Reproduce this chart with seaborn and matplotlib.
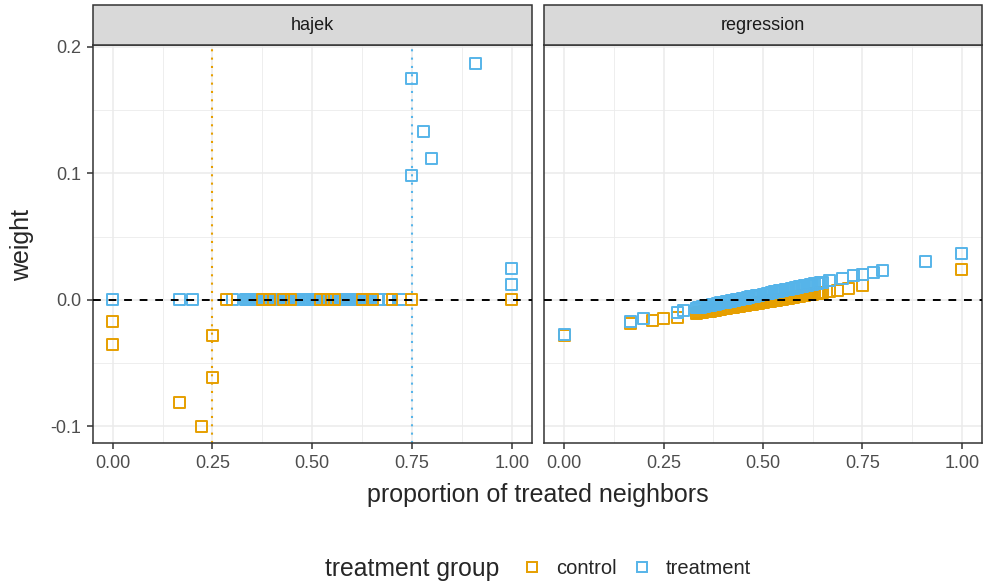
import pandas as pd
import matplotlib
matplotlib.use('Agg')
import matplotlib.pyplot as plt
import seaborn as sns
from matplotlib.patches import Rectangle
from matplotlib.lines import Line2D

sns.set_theme(style="white")
plt.rcParams['font.family'] = ['Liberation Sans', 'DejaVu Sans']

# colours for the two groups
ctrl_col = "#E69F00"
trt_col = "#56B4E9"

# proportion values of the dense middle band
band_x = [0.333, 0.338, 0.343, 0.348, 0.353, 0.357, 0.362, 0.367, 0.372, 0.375,
          0.38, 0.385, 0.389, 0.394, 0.4, 0.405, 0.409, 0.414, 0.417, 0.421,
          0.426, 0.429, 0.433, 0.438, 0.442, 0.447, 0.452, 0.455, 0.46, 0.464,
          0.469, 0.474, 0.478, 0.483, 0.488, 0.492, 0.5, 0.505, 0.51, 0.515,
          0.52, 0.524, 0.529, 0.533, 0.538, 0.542, 0.545, 0.55, 0.556, 0.56,
          0.565, 0.571, 0.576, 0.581, 0.586, 0.591, 0.596, 0.6, 0.605, 0.611,
          0.615, 0.62, 0.625, 0.63, 0.636, 0.64, 0.645, 0.65]

# regression weights along the band
band_reg_ctrl = [-0.0107, -0.0104, -0.0102, -0.0099, -0.0096, -0.0094, -0.0092, -0.0089, -0.0087, -0.0085,
                 -0.0082, -0.0080, -0.0078, -0.0075, -0.0072, -0.0069, -0.0067, -0.0065, -0.0063, -0.0061,
                 -0.0059, -0.0057, -0.0055, -0.0052, -0.0050, -0.0048, -0.0045, -0.0043, -0.0041, -0.0039,
                 -0.0036, -0.0034, -0.0031, -0.0029, -0.0026, -0.0024, -0.0020, -0.0017, -0.0015, -0.0012,
                 -0.0010, -0.0008, -0.0005, -0.0003, 0.0000, 0.0002, 0.0003, 0.0006, 0.0009, 0.0011,
                 0.0014, 0.0017, 0.0020, 0.0022, 0.0025, 0.0027, 0.0030, 0.0032, 0.0035, 0.0038,
                 0.0040, 0.0042, 0.0045, 0.0048, 0.0051, 0.0053, 0.0055, 0.0058]
band_reg_trt = [-0.0065, -0.0062, -0.0058, -0.0055, -0.0052, -0.0049, -0.0046, -0.0043, -0.0040, -0.0038,
                -0.0035, -0.0031, -0.0029, -0.0025, -0.0022, -0.0018, -0.0016, -0.0013, -0.0011, -0.0008,
                -0.0005, -0.0003, 0.0000, 0.0003, 0.0006, 0.0009, 0.0012, 0.0014, 0.0017, 0.0020,
                0.0023, 0.0026, 0.0029, 0.0032, 0.0035, 0.0038, 0.0043, 0.0046, 0.0049, 0.0053,
                0.0056, 0.0058, 0.0062, 0.0064, 0.0068, 0.0070, 0.0072, 0.0075, 0.0079, 0.0082,
                0.0085, 0.0089, 0.0092, 0.0095, 0.0099, 0.0102, 0.0105, 0.0108, 0.0111, 0.0115,
                0.0117, 0.0121, 0.0124, 0.0127, 0.0131, 0.0133, 0.0137, 0.0140]

# hajek panel (control zeros that show over the treatment band)
hajek_ctrl_x = [0, 0, 0.167, 0.222, 0.25, 0.25, 0.286, 0.375, 0.394, 0.429, 0.447, 0.52, 0.538,
                0.556, 0.625, 0.652, 0.7, 0.75, 1.0]
hajek_ctrl_w = [-0.0174, -0.0356, -0.081, -0.1, -0.0285, -0.0617, 0.0, 0.0, 0.0, 0.0, 0.0, 0.0, 0.0,
                0.0, 0.0, 0.0, 0.0, 0.0, 0.0]
hajek_trt_x = [0, 0.167, 0.2, 0.3] + band_x + [0.667, 0.69, 0.722, 0.75, 0.75, 0.778, 0.8, 0.909, 1.0, 1.0]
hajek_trt_w = [0.0, 0.0, 0.0, 0.0] + [0.0] * len(band_x) + [0.0, 0.0, 0.0, 0.175, 0.098, 0.133, 0.112, 0.187, 0.0245, 0.0119]

# regression panel
reg_ctrl_x = [0, 0.167, 0.222, 0.25, 0.286] + band_x + [0.667, 0.688, 0.714, 0.75, 1.0]
reg_ctrl_w = [-0.0285, -0.019, -0.0165, -0.015, -0.0137] + band_reg_ctrl + [0.0069, 0.0076, 0.0092, 0.011, 0.0243]
reg_trt_x = [0, 0.167, 0.2, 0.286, 0.3] + band_x + [0.667, 0.7, 0.727, 0.75, 0.778, 0.8, 0.909, 1.0]
reg_trt_w = [-0.0278, -0.0175, -0.015, -0.0103, -0.0085] + band_reg_trt + [0.0153, 0.017, 0.019, 0.0203, 0.0219, 0.0235, 0.0306, 0.0366]

hajek_df = pd.concat([
    pd.DataFrame({'x': hajek_trt_x, 'w': hajek_trt_w, 'group': 'treatment'}),
    pd.DataFrame({'x': hajek_ctrl_x, 'w': hajek_ctrl_w, 'group': 'control'}),
])
reg_df = pd.concat([
    pd.DataFrame({'x': reg_ctrl_x, 'w': reg_ctrl_w, 'group': 'control'}),
    pd.DataFrame({'x': reg_trt_x, 'w': reg_trt_w, 'group': 'treatment'}),
])

fig = plt.figure(figsize=(9.84, 5.84), dpi=100)
ax1 = fig.add_axes([0.0942, 0.2409, 0.4461, 0.682])
ax2 = fig.add_axes([0.5532, 0.2409, 0.4445, 0.682])

palette = {'control': ctrl_col, 'treatment': trt_col}
dark = "#333333"

for ax, d, title in [(ax1, hajek_df, 'hajek'), (ax2, reg_df, 'regression')]:
    ax.set_xlim(-0.05, 1.05)
    ax.set_ylim(-0.1135, 0.2015)
    ax.set_xticks([0, 0.25, 0.5, 0.75, 1.0])
    ax.set_xticks([0.125, 0.375, 0.625, 0.875], minor=True)
    ax.set_yticks([-0.1, 0.0, 0.1, 0.2])
    ax.set_yticks([-0.05, 0.05, 0.15], minor=True)
    ax.grid(True, which='major', color='#EBEBEB', lw=1.1, zorder=0)
    ax.grid(True, which='minor', color='#EBEBEB', lw=0.6, zorder=0)
    ax.set_axisbelow(True)
    ax.axhline(0, color='black', ls=(0, (4, 4)), lw=1.4, zorder=4)
    sns.scatterplot(data=d, x='x', y='w', hue='group', palette=palette, marker='s',
                    s=62, facecolor='none', linewidth=1.4, legend=False, ax=ax, zorder=3)
    # open squares: edge colour from the palette
    coll = ax.collections[-1]
    coll.set_edgecolors([palette[g] for g in d['group']])
    coll.set_facecolors('none')
    ax.set_xticklabels(['0.00', '0.25', '0.50', '0.75', '1.00'])
    ax.tick_params(axis='both', which='major', length=4.5, width=1.1, color=dark,
                   labelsize=13, labelcolor='#4D4D4D', pad=4, left=True, bottom=True)
    ax.tick_params(which='minor', length=0)
    for sp in ax.spines.values():
        sp.set_color(dark)
        sp.set_linewidth(1.1)
    ax.set_xlabel('')
    ax.set_ylabel('')
    # facet strip
    ax.add_patch(Rectangle((0, 1.0), 1, 40 / (0.682 * 584), transform=ax.transAxes,
                           facecolor='#D9D9D9', edgecolor=dark, lw=1.1, clip_on=False, zorder=5))
    ax.text(0.5, 1.0 + 20 / (0.682 * 584), title, transform=ax.transAxes, ha='center', va='center',
            fontsize=13, color='#1A1A1A', zorder=6)

ax1.axvline(0.25, color=ctrl_col, ls=(0, (1, 3)), lw=1.5, zorder=2)
ax1.axvline(0.75, color=trt_col, ls=(0, (1, 3)), lw=1.5, zorder=2)
ax1.set_yticklabels(['-0.1', '0.0', '0.1', '0.2'])
ax2.set_yticklabels([])
ax2.tick_params(axis='y', length=0)

fig.text(538 / 984, 1 - 495 / 584, 'proportion of treated neighbors', ha='center', va='center', fontsize=18)
fig.text(22 / 984, 1 - 245 / 584, 'weight', rotation=90, ha='center', va='center', fontsize=18)

fig.text(325 / 984, 1 - 569 / 584, 'treatment group', ha='left', va='center', fontsize=17.8)
handles = [Line2D([], [], ls='none', marker='s', markersize=7.5, markerfacecolor='none',
                  markeredgecolor=ctrl_col, markeredgewidth=1.4, label='control'),
           Line2D([], [], ls='none', marker='s', markersize=7.5, markerfacecolor='none',
                  markeredgecolor=trt_col, markeredgewidth=1.4, label='treatment')]
fig.legend(handles=handles, loc='center left', bbox_to_anchor=(522 / 984, 1 - 569 / 584), ncol=2,
           frameon=False, fontsize=14.5, handletextpad=0.7, columnspacing=0.75, handlelength=1.0,
           borderaxespad=0, borderpad=0)

fig.savefig('out.png', dpi=100)
